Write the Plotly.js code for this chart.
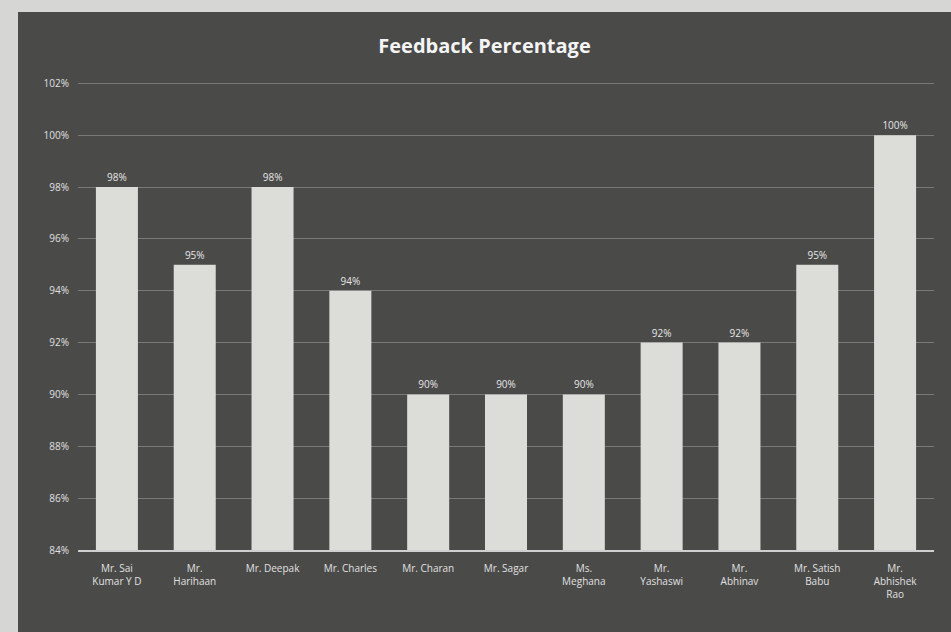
<!DOCTYPE html>
<html><head><meta charset="utf-8">
<script src="https://cdn.plot.ly/plotly-3.0.1.min.js"></script>
<style>
html,body{margin:0;padding:0;background:#d6d6d4;width:951px;height:632px;overflow:hidden}
#chart{position:absolute;left:18px;top:12px;width:933px;height:620px}
</style></head><body>
<div id="chart"></div>
<script>
const names = ["Mr. Sai<br>Kumar Y D","Mr.<br>Harihaan","Mr. Deepak","Mr. Charles","Mr. Charan","Mr. Sagar","Ms.<br>Meghana","Mr.<br>Yashaswi","Mr.<br>Abhinav","Mr. Satish<br>Babu","Mr.<br>Abhishek<br>Rao"];
const feedback = [98,95,98,94,90,90,90,92,92,95,100];
const labels = ["98%","95%","98%","94%","90%","90%","90%","92%","92%","95%","100%"];
const yTicks = [84,86,88,90,92,94,96,98,100,102];
const yTickLabels = ["84%","86%","88%","90%","92%","94%","96%","98%","100%","102%"];

Plotly.newPlot("chart", [{
  type: "bar",
  x: names,
  y: feedback,
  text: labels,
  textposition: "outside",
  cliponaxis: false,
  textfont: {family: "Open Sans, sans-serif", size: 10, color: "#e6e6e6"},
  marker: {color: "#dcdcd9", line: {width: 0}},
  hoverinfo: "skip"
}], {
  width: 933, height: 620,
  paper_bgcolor: "#4a4a49",
  plot_bgcolor: "rgba(0,0,0,0)",
  margin: {l: 60, r: 17, t: 70, b: 82},
  bargap: 0.46,
  showlegend: false,
  title: {text: "<b>Feedback Percentage</b>", x: 0.5, xanchor: "center", y: 0.945, yanchor: "middle",
          font: {family: "Open Sans, sans-serif", size: 20, color: "#f4f4f4"}},
  xaxis: {tickfont: {family: "Open Sans, sans-serif", size: 10, color: "#e0e0e0"},
          showline: true, linecolor: "#cfcfcf", linewidth: 2, ticks: "", tickangle: 0,
          ticklabelstandoff: 8},
  yaxis: {range: [84, 102.05], tickmode: "array", tickvals: yTicks, ticktext: yTickLabels,
          tickfont: {family: "Open Sans, sans-serif", size: 10, color: "#e0e0e0"},
          gridcolor: "rgba(210,210,210,0.35)", gridwidth: 1, zeroline: false, ticks: "",
          ticklabelstandoff: 8}
}, {displayModeBar: false, staticPlot: true});
</script>
</body></html>
